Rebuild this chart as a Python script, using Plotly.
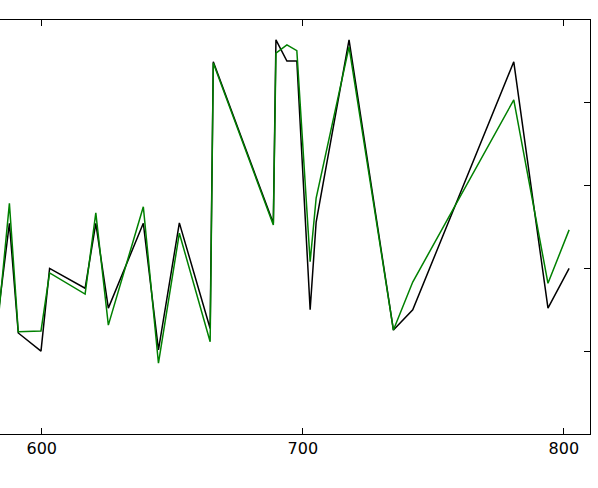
import plotly.graph_objects as go

x_vals = [583.5, 587.6, 591.0, 599.7, 603.0, 616.6, 620.7, 625.5, 638.9, 644.7,
          652.7, 664.5, 665.7, 688.7, 689.7, 693.9, 697.7, 702.8, 705.1, 717.7,
          734.7, 742.1, 780.8, 793.9, 802.0]

black_vals = [0.300, 0.509, 0.244, 0.200, 0.400, 0.352, 0.509, 0.304, 0.509, 0.203,
              0.510, 0.255, 0.899, 0.509, 0.952, 0.901, 0.901, 0.300, 0.512, 0.952,
              0.251, 0.300, 0.899, 0.304, 0.400]

green_vals = [0.287, 0.557, 0.247, 0.249, 0.389, 0.338, 0.534, 0.263, 0.549, 0.171,
              0.485, 0.223, 0.896, 0.505, 0.920, 0.940, 0.926, 0.416, 0.570, 0.935,
              0.251, 0.367, 0.807, 0.364, 0.493]

x_ticks = [600, 700, 800]
y_ticks = [0.2, 0.4, 0.6, 0.8]

fig = go.Figure()
fig.add_trace(go.Scatter(x=x_vals, y=black_vals, mode="lines",
                         line=dict(color="black", width=1.5), showlegend=False))
fig.add_trace(go.Scatter(x=x_vals, y=green_vals, mode="lines",
                         line=dict(color="#008000", width=1.5), showlegend=False))

fig.update_layout(
    width=598, height=488,
    margin=dict(l=0, r=8, t=20, b=54),
    paper_bgcolor="white", plot_bgcolor="white",
    font=dict(family="DejaVu Sans", size=16, color="black"),
    xaxis=dict(range=[584, 810], tickvals=x_ticks, ticktext=[str(v) for v in x_ticks],
               showgrid=False, zeroline=False, showline=True, linecolor="black",
               linewidth=1, mirror="ticks", ticks="inside", ticklen=6,
               tickcolor="black", tickwidth=1),
    yaxis=dict(range=[0, 1], tickvals=y_ticks, side="right", showticklabels=False,
               showgrid=False, zeroline=False, showline=True, linecolor="black",
               linewidth=1, mirror=False, ticks="inside", ticklen=6,
               tickcolor="black", tickwidth=1),
)

fig.write_html("out.html", config={"displayModeBar": False},
               post_script="document.body.style.margin='0';")
